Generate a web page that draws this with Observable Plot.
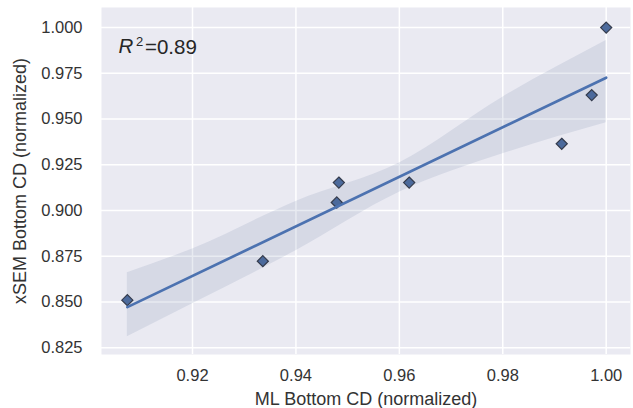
<!DOCTYPE html>
<html>
<head>
<meta charset="utf-8">
<script src="https://cdn.jsdelivr.net/npm/d3@7"></script>
<script src="https://cdn.jsdelivr.net/npm/@observablehq/plot@0.6"></script>
<style>
  html, body { margin: 0; padding: 0; background: #ffffff; }
  #chart svg { display: block; }
</style>
</head>
<body>
<div id="chart"></div>
<script>
// Scatter data
const mlCD  = [0.9074, 0.9336, 0.9479, 0.9483, 0.9619, 0.9914, 0.9972, 1.000];
const semCD = [0.8510, 0.8723, 0.9044, 0.9153, 0.9153, 0.9365, 0.9631, 1.000];

// Confidence band (bootstrap)
const bandX  = [0.9074, 0.920, 0.940, 0.960, 0.980, 1.000];
const bandLo = [0.831, 0.849, 0.878, 0.910, 0.931, 0.948];
const bandHi = [0.866, 0.879, 0.905, 0.926, 0.962, 0.993];

// Tick labels
const xTicks = [0.92, 0.94, 0.96, 0.98, 1.00];
const yTicks = [0.825, 0.850, 0.875, 0.900, 0.925, 0.950, 0.975, 1.000];

const xLabel = "ML Bottom CD (normalized)";
const yLabel = "xSEM Bottom CD (normalized)";
const r2Text = ["R", "2", "=0.89"];

const points = mlCD.map((x, i) => ({x, y: semCD[i]}));
const band = bandX.map((x, i) => ({x, lo: bandLo[i], hi: bandHi[i]}));

const blue = "#4c72b0";
const textColor = "#333333";
const font = "'Liberation Sans', Arial, sans-serif";

const chart = Plot.plot({
  width: 633,
  height: 408,
  marginLeft: 101,
  marginRight: 3,
  marginTop: 7,
  marginBottom: 54,
  style: {fontFamily: font, color: textColor, background: "#ffffff", overflow: "visible"},
  x: {domain: [0.9024, 1.0047]},
  y: {domain: [0.8213, 1.0110]},
  marks: [
    Plot.frame({fill: "#eaeaf2", stroke: null}),
    Plot.gridX(xTicks, {stroke: "#ffffff", strokeOpacity: 1, strokeWidth: 1.5}),
    Plot.gridY(yTicks, {stroke: "#ffffff", strokeOpacity: 1, strokeWidth: 1.5}),
    Plot.axisX(xTicks, {tickSize: 0, tickPadding: 15, tickFormat: d3.format(".2f"), fontSize: 16.5, label: null, fill: textColor}),
    Plot.axisY(yTicks, {tickSize: 0, tickPadding: 19, tickFormat: d3.format(".3f"), fontSize: 16.5, label: null, fill: textColor}),
    Plot.areaY(band, {x: "x", y1: "lo", y2: "hi", fill: "#5a6f9e", fillOpacity: 0.14, curve: "monotone-x"}),
    Plot.dot(points, {x: "x", y: "y", symbol: "diamond2", r: 5, fill: "#4c6a9c", stroke: "#343b4c", strokeWidth: 1.2}),
    Plot.linearRegressionY(points, {x: "x", y: "y", ci: 0, stroke: blue, strokeWidth: 2.7}),
    Plot.text([xLabel], {frameAnchor: "bottom", dy: 45, fontSize: 18, fill: textColor, lineAnchor: "middle", textAnchor: "middle"}),
    Plot.text([yLabel], {frameAnchor: "left", dx: -81, rotate: -90, fontSize: 18, fill: textColor, lineAnchor: "middle", textAnchor: "middle"}),
    Plot.text([r2Text[0]], {frameAnchor: "top-left", dx: 17, dy: 31, fontSize: 20.5, fontStyle: "italic", fill: "#262626", lineAnchor: "top"}),
    Plot.text([r2Text[1]], {frameAnchor: "top-left", dx: 34.5, dy: 29.5, fontSize: 13, fill: "#262626", lineAnchor: "top"}),
    Plot.text([r2Text[2]], {frameAnchor: "top-left", dx: 43.5, dy: 31.5, fontSize: 20.5, fill: "#262626", lineAnchor: "top"})
  ]
});

document.getElementById("chart").appendChild(chart);
</script>
</body>
</html>
